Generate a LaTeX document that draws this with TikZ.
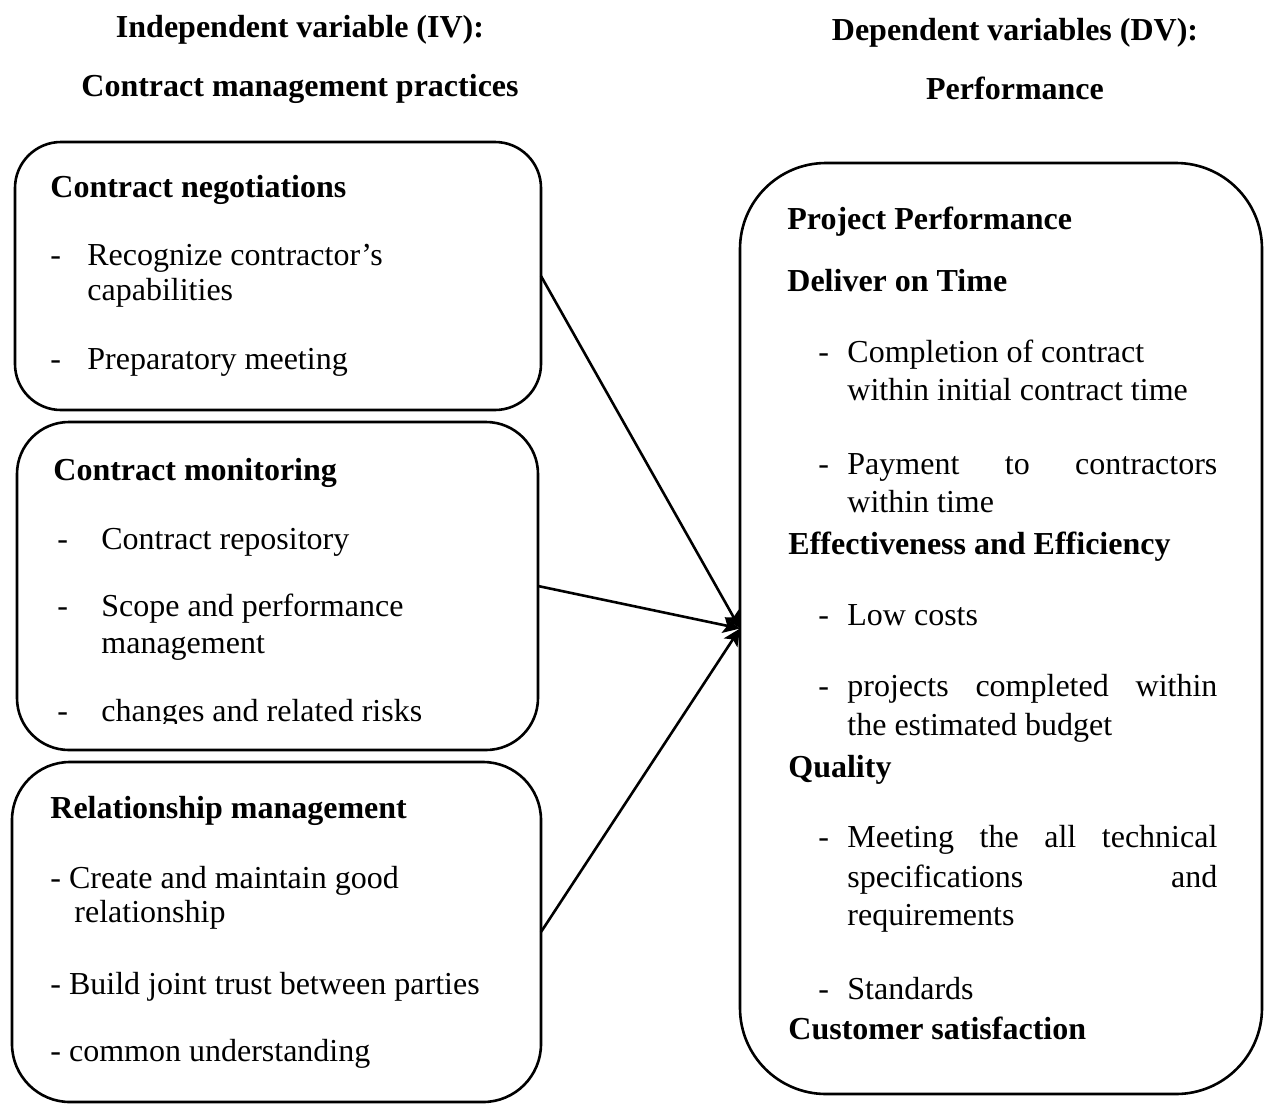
\documentclass[tikz,border=0pt]{standalone}
\usepackage{fontspec}
\setmainfont{Liberation Serif}
\usetikzlibrary{arrows.meta}
\newlength{\du}
\setlength{\du}{0.5pt}
\definecolor{dialinecolor}{rgb}{0.000000, 0.000000, 0.000000}
\tikzset{
  roundbox/.style={draw=dialinecolor, line width=2.6\du, rectangle, inner sep=0pt, outer sep=0pt},
  boxtext/.style={anchor=base west, inner sep=0pt, text=dialinecolor, font=\fontsize{16}{18.4}\selectfont},
  boxhead/.style={boxtext, font=\fontsize{16}{18.4}\selectfont\bfseries},
  linkarrow/.style={draw=dialinecolor, line width=2.6\du, -{Stealth[length=8.5pt,width=8pt,inset=2pt,fill=dialinecolor]}}
}

\begin{document}
\begin{tikzpicture}
\pgftransformxscale{1.000000}
\pgftransformyscale{-1.000000}
\useasboundingbox (0\du,0\du) rectangle (1264\du,1104\du);
% setfont left to latex
\node[boxhead, anchor=base] (ivhead) at (300\du,37\du) {Independent variable (IV):};
\node[boxhead, anchor=base] (ivname) at (300\du,96\du) {Contract management practices};
\node[boxhead, anchor=base] (dvhead) at (1015\du,40\du) {Dependent variables (DV):};
\node[boxhead, anchor=base] (dvname) at (1015\du,99\du) {Performance};
% boxes
\node[roundbox, rounded corners=46\du, minimum width=526\du, minimum height=268\du] (neg) at (278\du,276\du) {};
\node[roundbox, rounded corners=52\du, minimum width=521\du, minimum height=328\du] (mon) at (277.5\du,586\du) {};
\node[roundbox, rounded corners=58\du, minimum width=529\du, minimum height=340\du] (rel) at (276.5\du,932\du) {};
\node[roundbox, rounded corners=86\du, minimum width=522\du, minimum height=931\du] (perf) at (1001\du,628.5\du) {};
% setfont left to latex
\node[boxhead] (negtitle) at (50\du,197\du) {Contract negotiations};
\node[boxtext] (negdasha) at (50\du,265\du) {-};
\node[boxtext] (negitema) at (87\du,265\du) {Recognize contractor’s};
\node[boxtext] (negitemb) at (87\du,300\du) {capabilities};
\node[boxtext] (negdashb) at (50\du,369\du) {-};
\node[boxtext] (negitemc) at (87\du,369\du) {Preparatory meeting};
% setfont left to latex
\node[boxhead] (montitle) at (53\du,480\du) {Contract monitoring};
\node[boxtext] (mondasha) at (57\du,549\du) {-};
\node[boxtext] (monitema) at (101\du,549\du) {Contract repository};
\node[boxtext] (mondashb) at (57\du,616\du) {-};
\node[boxtext] (monitemb) at (101\du,616\du) {Scope and performance};
\node[boxtext] (monitemc) at (101\du,653\du) {management};
\begin{scope}
\clip (17\du,660\du) rectangle (538\du,723\du);
\node[boxtext] (mondashc) at (57\du,721\du) {-};
\node[boxtext] (monitemd) at (101\du,721\du) {changes and related risks};
\end{scope}
% setfont left to latex
\node[boxhead] (reltitle) at (50\du,818\du) {Relationship management};
\node[boxtext] (relitema) at (50\du,888\du) {- Create and maintain good};
\node[boxtext] (relitemb) at (74\du,922\du) {relationship};
\node[boxtext] (relitemc) at (50\du,994\du) {- Build joint trust between parties};
\node[boxtext] (relitemd) at (50\du,1061\du) {- common understanding};
% setfont left to latex
\node[boxhead] (perftitle) at (787\du,229\du) {Project Performance};
\node[boxhead] (timehead) at (787\du,291\du) {Deliver on Time};
\node[boxtext] (timedasha) at (818\du,362\du) {-};
\node[boxtext] (timeitema) at (847\du,362\du) {Completion of contract};
\node[boxtext] (timeitemb) at (847\du,400\du) {within initial contract time};
\node[boxtext] (timedashb) at (818\du,474\du) {-};
\node[boxtext] (timeitemc) at (847\du,474\du) {\makebox[370\du][s]{Payment to contractors}};
\node[boxtext] (timeitemd) at (847\du,512\du) {within time};
\node[boxhead] (effhead) at (788\du,554\du) {Effectiveness and Efficiency};
\node[boxtext] (effdasha) at (818\du,625\du) {-};
\node[boxtext] (effitema) at (847\du,625\du) {Low costs};
\node[boxtext] (effdashb) at (818\du,696\du) {-};
\node[boxtext] (effitemb) at (847\du,696\du) {\makebox[370\du][s]{projects completed within}};
\node[boxtext] (effitemc) at (847\du,735\du) {the estimated budget};
\node[boxhead] (qualhead) at (788\du,777\du) {Quality};
\node[boxtext] (qualdasha) at (818\du,847\du) {-};
\node[boxtext] (qualitema) at (847\du,847\du) {\makebox[370\du][s]{Meeting the all technical}};
\node[boxtext] (qualitemb) at (847\du,887\du) {\makebox[370\du][s]{specifications and}};
\node[boxtext] (qualitemc) at (847\du,925\du) {requirements};
\node[boxtext] (qualdashb) at (818\du,999\du) {-};
\node[boxtext] (qualitemd) at (847\du,999\du) {Standards};
\node[boxhead] (custhead) at (788\du,1039\du) {Customer satisfaction};
% links
\draw[linkarrow] (neg.east) -- (perf.west);
\draw[linkarrow] (mon.east) -- (perf.west);
\draw[linkarrow] (rel.east) -- (perf.west);
\end{tikzpicture}
\end{document}
